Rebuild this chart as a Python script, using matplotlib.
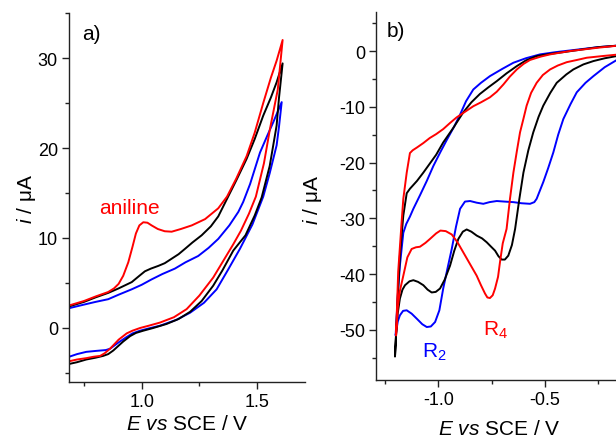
"""
Cyclic voltammograms: a) oxidation with aniline, b) reduction (R2, R4 peaks)
"""

import matplotlib
matplotlib.use('Agg')
import matplotlib.pyplot as plt
from matplotlib.ticker import MultipleLocator

plt.rcParams['font.family'] = ['Liberation Sans', 'DejaVu Sans']
plt.rcParams['mathtext.fontset'] = 'custom'
plt.rcParams['mathtext.rm'] = 'Liberation Sans'
plt.rcParams['mathtext.it'] = 'Liberation Sans:italic'
plt.rcParams['axes.unicode_minus'] = False

# ---- panel a) anodic scans (E / V, i / uA), forward then reverse ----
a_red_E = [0.685, 0.75, 0.80, 0.855, 0.88, 0.90, 0.92, 0.942, 0.96, 0.975, 0.99, 1.007,
           1.025, 1.043, 1.07, 1.10, 1.13, 1.17, 1.217, 1.275, 1.332, 1.37, 1.41, 1.455,
           1.49, 1.527, 1.56, 1.585, 1.611,
           1.59, 1.556, 1.53, 1.495, 1.465, 1.43, 1.397, 1.35, 1.31, 1.25, 1.195, 1.14,
           1.079, 1.03, 0.993, 0.96, 0.935, 0.90, 0.863, 0.84, 0.82, 0.79, 0.76, 0.72, 0.685]
a_red_i = [2.5, 3.0, 3.5, 4.0, 4.4, 4.9, 5.8, 7.3, 9.0, 10.5, 11.4, 11.75,
           11.7, 11.4, 11.0, 10.75, 10.7, 11.0, 11.4, 12.1, 13.3, 14.6, 16.6, 19.1,
           21.7, 25.0, 27.8, 29.7, 32.0,
           26.5, 22.1, 18.3, 14.6, 12.7, 10.8, 9.3, 7.3, 5.6, 3.6, 2.1, 1.2,
           0.6, 0.25, 0.0, -0.3, -0.6, -1.3, -2.3, -2.8, -3.1, -3.2, -3.35, -3.5, -3.7]

a_black_E = [0.685, 0.75, 0.80, 0.855, 0.90, 0.957, 0.99, 1.014, 1.04, 1.072, 1.10, 1.13,
             1.16, 1.188, 1.22, 1.26, 1.30, 1.332, 1.369, 1.41, 1.455, 1.49, 1.527, 1.56,
             1.585, 1.611,
             1.595, 1.585, 1.555, 1.52, 1.49, 1.45, 1.397, 1.35, 1.31, 1.26, 1.21, 1.16,
             1.108, 1.05, 1.007, 0.975, 0.95, 0.92, 0.877, 0.855, 0.833, 0.80, 0.76, 0.72, 0.685]
a_black_i = [2.4, 2.9, 3.4, 3.9, 4.4, 5.1, 5.8, 6.3, 6.6, 6.9, 7.2, 7.7,
             8.2, 8.8, 9.5, 10.3, 11.3, 12.4, 14.3, 16.4, 18.8, 21.0, 23.6, 25.6,
             27.3, 29.4,
             25.5, 22.5, 18.0, 14.5, 12.5, 10.3, 8.6, 6.4, 4.7, 3.0, 1.8, 1.0,
             0.45, 0.0, -0.3, -0.55, -0.9, -1.5, -2.5, -2.9, -3.1, -3.3, -3.5, -3.8, -4.0]

a_blue_E = [0.685, 0.75, 0.80, 0.855, 0.90, 0.957, 1.0, 1.043, 1.09, 1.144, 1.19, 1.245,
            1.29, 1.332, 1.38, 1.419, 1.44, 1.47, 1.513, 1.545, 1.571, 1.607,
            1.595, 1.585, 1.555, 1.527, 1.48, 1.426, 1.375, 1.325, 1.27, 1.21, 1.15,
            1.08, 1.03, 0.993, 0.96, 0.935, 0.90, 0.863, 0.845, 0.80, 0.76, 0.72, 0.685]
a_blue_i = [2.2, 2.6, 2.9, 3.2, 3.7, 4.3, 4.8, 5.4, 6.0, 6.6, 7.3, 8.0,
            8.9, 9.9, 11.4, 12.9, 14.0, 16.0, 19.5, 21.4, 22.9, 25.1,
            22.3, 20.3, 17.2, 14.6, 11.5, 8.8, 6.5, 4.3, 2.8, 1.7, 0.9,
            0.26, -0.05, -0.3, -0.6, -1.0, -1.6, -2.3, -2.45, -2.55, -2.65, -2.9, -3.2]

# ---- panel b) cathodic scans, from -0.15 V down to -1.2 V and back ----
b_blue_E = [-0.15, -0.25, -0.383, -0.45, -0.523, -0.59, -0.648, -0.70, -0.758, -0.80,
            -0.836, -0.87, -0.898, -0.925, -0.961, -0.99, -1.023, -1.054, -1.085, -1.117,
            -1.133, -1.15, -1.164, -1.172, -1.18, -1.188, -1.195, -1.2,
            -1.19, -1.18, -1.165, -1.148, -1.125, -1.101, -1.075, -1.054, -1.035, -1.015,
            -0.995, -0.977, -0.957, -0.937, -0.917, -0.898, -0.875, -0.851, -0.82, -0.789,
            -0.76, -0.726, -0.69, -0.648, -0.61, -0.57, -0.55, -0.539, -0.508, -0.485,
            -0.461, -0.438, -0.414, -0.38, -0.351, -0.31, -0.273, -0.22, -0.15]
b_blue_i = [1.0, 0.7, 0.1, -0.2, -0.6, -1.3, -2.1, -3.2, -4.5, -5.7,
            -6.9, -9.0, -11.4, -13.5, -16.0, -18.1, -20.6, -23.3, -25.8, -28.3,
            -29.7, -31.0, -32.6, -35.5, -38.5, -42.6, -47.5, -51.0,
            -48.5, -47.4, -46.6, -46.5, -47.1, -48.0, -49.0, -49.5, -49.4, -48.6,
            -46.5, -42.6, -39.0, -35.5, -31.5, -28.3, -27.0, -26.9, -27.2, -27.4,
            -27.1, -26.9, -27.0, -27.1, -27.3, -27.4, -27.1, -26.5, -23.5, -21.0,
            -18.2, -15.0, -12.2, -9.5, -7.4, -5.7, -4.5, -2.9, -1.3]

b_black_E = [-0.15, -0.25, -0.414, -0.475, -0.539, -0.59, -0.632, -0.68, -0.726, -0.765,
             -0.805, -0.845, -0.883, -0.93, -0.977, -1.01, -1.04, -1.07, -1.10, -1.133,
             -1.148, -1.164, -1.18, -1.192, -1.203,
             -1.198, -1.19, -1.18, -1.168, -1.156, -1.135, -1.117, -1.095, -1.07, -1.05,
             -1.031, -1.012, -0.992, -0.97, -0.945, -0.925, -0.906, -0.885, -0.867, -0.845,
             -0.82, -0.795, -0.773, -0.755, -0.734, -0.718, -0.703, -0.688, -0.672, -0.655,
             -0.64, -0.62, -0.601, -0.578, -0.555, -0.53, -0.508, -0.475, -0.445, -0.40,
             -0.367, -0.32, -0.273, -0.22, -0.15]
b_black_i = [1.0, 0.7, -0.2, -0.5, -0.9, -1.7, -2.7, -4.0, -5.4, -6.5,
             -7.7, -9.2, -11.0, -13.8, -16.4, -18.6, -20.2, -21.8, -23.3, -24.7,
             -25.5, -29.5, -36.7, -45.6, -54.8,
             -51.0, -47.0, -44.4, -42.8, -42.0, -41.3, -41.1, -41.4, -42.0, -42.8,
             -43.3, -43.2, -42.6, -41.0, -38.5, -35.8, -33.7, -32.4, -32.0, -32.4,
             -33.1, -33.6, -34.3, -35.0, -35.8, -36.8, -37.4, -37.4, -36.7, -34.8,
             -31.9, -26.5, -21.8, -17.8, -14.6, -11.8, -9.8, -7.5, -5.7, -4.2,
             -3.3, -2.4, -1.8, -1.3, -0.8]

b_red_E = [-0.15, -0.25, -0.383, -0.43, -0.476, -0.52, -0.57, -0.60, -0.632, -0.665,
           -0.695, -0.726, -0.758, -0.80, -0.836, -0.875, -0.914, -0.945, -0.977, -1.01,
           -1.04, -1.07, -1.10, -1.12, -1.133, -1.148, -1.164, -1.172, -1.188, -1.198,
           -1.19, -1.18, -1.164, -1.145, -1.125, -1.105, -1.086, -1.06, -1.039, -1.01,
           -0.99, -0.965, -0.937, -0.91, -0.883, -0.85, -0.82, -0.80, -0.781, -0.77,
           -0.758, -0.745, -0.734, -0.72, -0.711, -0.698, -0.68, -0.664, -0.648, -0.632,
           -0.617, -0.60, -0.586, -0.565, -0.539, -0.51, -0.476, -0.44, -0.398, -0.35,
           -0.304, -0.23, -0.15]
b_red_i = [1.0, 0.6, 0.0, -0.3, -0.6, -1.0, -1.6, -2.3, -3.3, -4.6,
           -6.0, -7.3, -8.3, -9.2, -9.9, -10.9, -11.9, -12.9, -14.0, -14.9,
           -15.6, -16.5, -17.3, -17.8, -18.3, -21.8, -26.5, -30.7, -39.6, -51.0,
           -46.0, -43.0, -40.3, -37.0, -35.5, -35.2, -35.1, -34.4, -33.7, -32.7,
           -32.2, -32.3, -32.9, -34.3, -36.1, -38.3, -40.3, -42.0, -43.5, -44.2,
           -44.3, -43.8, -42.6, -40.5, -37.9, -34.5, -31.9, -26.5, -21.8, -18.0,
           -14.6, -12.0, -9.8, -7.5, -5.7, -4.3, -3.3, -2.6, -2.0, -1.6,
           -1.2, -0.9, -0.6]

LW = 1.4


def style_axis(ax):
    ax.spines['top'].set_visible(False)
    ax.spines['right'].set_visible(False)
    for side in ('left', 'bottom'):
        ax.spines[side].set_linewidth(1.0)
        ax.spines[side].set_color('#222222')
    ax.tick_params(which='major', direction='out', length=5, width=1.0,
                   labelsize=13, color='#222222', pad=3)
    ax.tick_params(which='minor', direction='out', length=3, width=1.0, color='#222222')


fig = plt.figure(figsize=(6.16, 4.39), dpi=100)

# panel a
ax1 = fig.add_axes([69 / 616, 1 - 383 / 439, 236 / 616, 369 / 439])
ax1.plot(a_blue_E, a_blue_i, color='#0000ff', lw=LW)
ax1.plot(a_black_E, a_black_i, color='black', lw=LW)
ax1.plot(a_red_E, a_red_i, color='#ff0000', lw=LW)
ax1.set_xlim(0.685, 1.708)
ax1.set_ylim(-6, 35)
ax1.xaxis.set_major_locator(MultipleLocator(0.5))
ax1.xaxis.set_minor_locator(MultipleLocator(0.25))
ax1.yaxis.set_major_locator(MultipleLocator(10))
ax1.yaxis.set_minor_locator(MultipleLocator(5))
ax1.xaxis.set_major_formatter(plt.FormatStrFormatter('%.1f'))
style_axis(ax1)
ax1.text(0.055, 0.97, 'a)', transform=ax1.transAxes, fontsize=15, va='top', ha='left')
ax1.text(0.945, 12.3, 'aniline', color='#ff0000', fontsize=15, ha='center', va='bottom')

# panel b
ax2 = fig.add_axes([376 / 616, 1 - 381 / 439, 246 / 616, 368 / 439])
ax2.plot(b_blue_E, b_blue_i, color='#0000ff', lw=LW)
ax2.plot(b_black_E, b_black_i, color='black', lw=LW)
ax2.plot(b_red_E, b_red_i, color='#ff0000', lw=LW)
ax2.set_xlim(-1.292, -0.139)
ax2.set_ylim(-59, 7)
ax2.xaxis.set_major_locator(MultipleLocator(0.5))
ax2.xaxis.set_minor_locator(MultipleLocator(0.25))
ax2.yaxis.set_major_locator(MultipleLocator(10))
ax2.yaxis.set_minor_locator(MultipleLocator(5))
ax2.xaxis.set_major_formatter(plt.FormatStrFormatter('%.1f'))
style_axis(ax2)
ax2.text(0.045, 0.975, 'b)', transform=ax2.transAxes, fontsize=15, va='top', ha='left')
ax2.text(-1.02, -55.8, 'R$_2$', color='#0000ff', fontsize=15, ha='center', va='bottom')
ax2.text(-0.73, -51.8, 'R$_4$', color='#ff0000', fontsize=15, ha='center', va='bottom')

# axis labels
fig.text(27 / 616, 1 - 199 / 439, '$i$ / μA', rotation=90, fontsize=15, ha='center', va='center')
fig.text(313 / 616, 1 - 200 / 439, '$i$ / μA', rotation=90, fontsize=15, ha='center', va='center')
fig.text(187 / 616, 1 - 425 / 439, '$E$ $vs$ SCE / V', fontsize=15, ha='center', va='center')
fig.text(499 / 616, 1 - 430 / 439, '$E$ $vs$ SCE / V', fontsize=15, ha='center', va='center')

fig.savefig('out.png', dpi=100)
plt.close(fig)
